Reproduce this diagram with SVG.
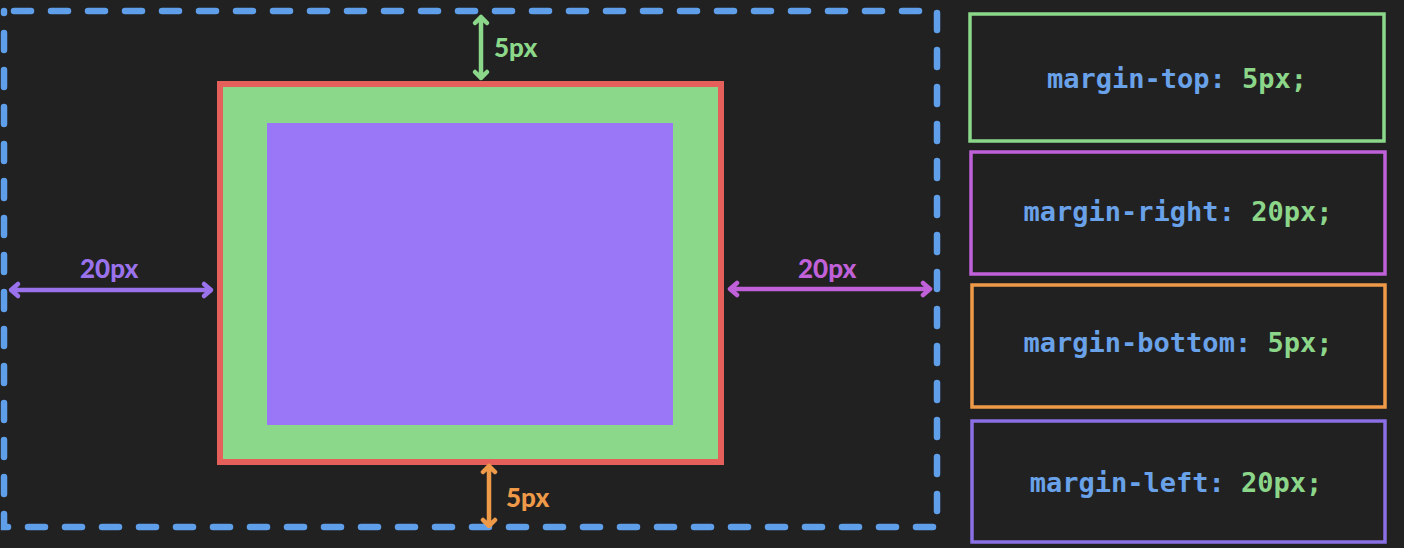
<svg xmlns="http://www.w3.org/2000/svg" width="1404" height="548" viewBox="0 0 1404 548">
<style>
.code{font-family:"DejaVu Sans Mono","Liberation Mono",monospace;font-weight:bold;font-size:27px;text-anchor:middle}
.k{fill:#6aa2ea}.v{fill:#8cd68a}
.hand{font-family:Lato,"Open Sans",sans-serif;font-weight:900;font-size:26px}
.arr{fill:none;stroke-width:4.5;stroke-linecap:round;stroke-linejoin:round}
.box{fill:none;stroke-width:3.5}
</style>
<rect width="1404" height="548" fill="#212121"/>
<g id="margin-area">
<rect x="4" y="11" width="933" height="516" fill="none" stroke="#5f9ee8" stroke-width="6.5" stroke-linecap="round" stroke-dasharray="17 20" stroke-dashoffset="-10"/>
</g>
<g id="element-box">
<rect x="220" y="84" width="501" height="378" fill="#8cd88a" stroke="#e5605a" stroke-width="6"/>
<rect x="267" y="123" width="406" height="302" fill="#9a77f6"/>
</g>
<g id="connectors">
<path class="arr" stroke="#8cd88a" d="M481 17 V78 M475 23 L481 17 L487 23 M475 72 L481 78 L487 72"/>
<path class="arr" stroke="#ef9a48" d="M489 466 V526 M483 472 L489 466 L495 472 M483 520 L489 526 L495 520"/>
<path class="arr" stroke="#9a72ec" d="M11 290 H211 M18 284 L11 290 L18 296 M204 284 L211 290 L204 296"/>
<path class="arr" stroke="#c061d9" d="M730 289 H930 M737 283 L730 289 L737 295 M923 283 L930 289 L923 295"/>
</g>
<g id="labels">
<text class="hand" x="494" y="57" fill="#8cd88a">5px</text>
<text class="hand" x="506" y="507" fill="#ef9a48">5px</text>
<text class="hand" x="80" y="278" fill="#9a72ec">20px</text>
<text class="hand" x="798" y="278" fill="#c061d9">20px</text>
</g>
<g id="node-top">
<rect class="box" x="970" y="14" width="414" height="127" stroke="#8cd88a"/>
<text class="code" x="1177" y="88"><tspan class="k">margin-top: </tspan><tspan class="v">5px;</tspan></text>
</g>
<g id="node-right">
<rect class="box" x="971" y="152" width="414" height="122" stroke="#c061d9"/>
<text class="code" x="1178" y="221"><tspan class="k">margin-right: </tspan><tspan class="v">20px;</tspan></text>
</g>
<g id="node-bottom">
<rect class="box" x="972" y="285" width="413" height="122" stroke="#ef9a48"/>
<text class="code" x="1178" y="352"><tspan class="k">margin-bottom: </tspan><tspan class="v">5px;</tspan></text>
</g>
<g id="node-left">
<rect class="box" x="972" y="421" width="413" height="121" stroke="#8b6fe4"/>
<text class="code" x="1176" y="492"><tspan class="k">margin-left: </tspan><tspan class="v">20px;</tspan></text>
</g>
</svg>
